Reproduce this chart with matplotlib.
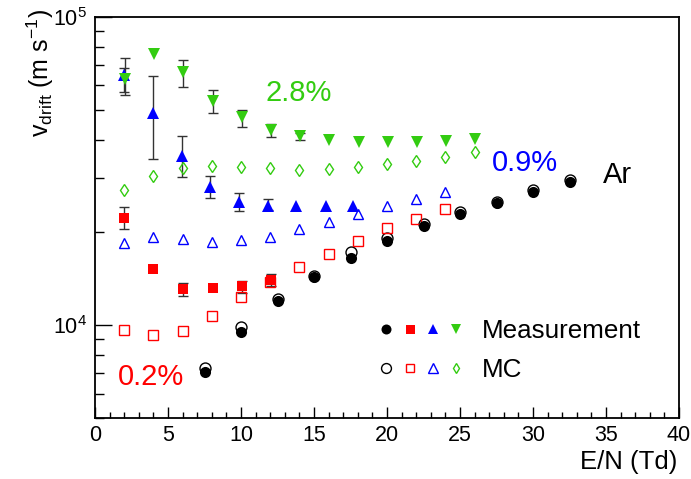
import matplotlib
matplotlib.use('Agg')
import matplotlib.pyplot as plt
import numpy as np
from matplotlib.legend_handler import HandlerTuple
from matplotlib.ticker import LogLocator, NullFormatter, MultipleLocator

plt.rcParams['font.family'] = ['Liberation Sans', 'DejaVu Sans']
plt.rcParams['mathtext.fontset'] = 'custom'
plt.rcParams['mathtext.rm'] = 'Liberation Sans'
plt.rcParams['mathtext.it'] = 'Liberation Sans:italic'
plt.rcParams['mathtext.default'] = 'regular'

RED = '#ff0000'
BLUE = '#0000ff'
GREEN = '#33cc11'

# pure Ar
en_ar = [7.5, 10.0, 12.5, 15.0, 17.5, 20.0, 22.5, 25.0, 27.5, 30.0, 32.5]
v_ar_meas = [7050, 9510, 11980, 14380, 16560, 18740, 20950, 22990, 25000, 27080, 29180]
v_ar_mc = [7260, 9870, 12180, 14450, 17230, 19120, 21320, 23330, 25100, 27560, 29690]

# 0.2 %
en_02_meas = [2.0, 4.0, 6.05, 8.05, 10.05, 12.05]
v_02_meas = [22310, 15180, 13080, 13240, 13400, 13985]
v_02_hi = [24210, 0, 13670, 0, 13900, 14630]
v_02_lo = [20450, 0, 12440, 0, 12760, 13400]
en_02_mc = [2, 4, 6, 8, 10, 12, 14, 16, 18, 20, 22, 24]
v_02_mc = [9656, 9303, 9563, 10717, 12350, 13850, 15410, 17010, 18790, 20610, 22030, 23790]

# 0.9 %
en_09_meas = [2.0, 4.0, 5.95, 7.9, 9.85, 11.85, 13.8, 15.8, 17.7]
v_09_meas = [64880, 48980, 35480, 28030, 25060, 24440, 24440, 24440, 24440]
v_09_hi = [68230, 64150, 41230, 30570, 26880, 25770, 0, 0, 0]
v_09_lo = [57000, 34670, 30270, 25870, 23550, 23600, 0, 0, 0]
en_09_mc = [2, 4, 6, 8, 10, 12, 14, 16, 18, 20, 22, 24]
v_09_mc = [18430, 19310, 19080, 18660, 18840, 19360, 20450, 21650, 22910, 24440, 25700, 27150]

# 2.8 %
en_28_meas = [2.05, 4.05, 6.05, 8.05, 10.05, 12.05, 14.05, 16.05, 18.05, 20.05, 22.05, 24.05, 26.05]
v_28_meas = [62980, 75690, 66240, 53570, 47210, 42850, 40980, 39790, 39200, 39300, 39300, 39700, 40270]
v_28_hi = [73450, 0, 72550, 58040, 50000, 44960, 42000, 0, 0, 0, 0, 0, 0]
v_28_lo = [55930, 0, 59430, 48980, 43970, 40650, 39800, 0, 0, 0, 0, 0, 0]
en_28_mc = [2, 4, 6, 8, 10, 12, 14, 16, 18, 20, 22, 24, 26]
v_28_mc = [27400, 30400, 32290, 32870, 32530, 32290, 31960, 32100, 32640, 33430, 34210, 35160, 36380]


def draw_errors(ax, x, y, hi, lo):
    x = np.asarray(x, float)
    y = np.asarray(y, float)
    hi = np.asarray(hi, float)
    lo = np.asarray(lo, float)
    m = hi > 0
    ax.errorbar(x[m], y[m], yerr=[y[m] - lo[m], hi[m] - y[m]], fmt='none',
                ecolor='#333333', elinewidth=1.0, capsize=3.5, capthick=1.0, zorder=2)


fig = plt.figure(figsize=(6.91, 4.79), dpi=100)
ax = fig.add_axes([95 / 691, 61 / 479, 584 / 691, 401 / 479])

mc_kw = dict(linestyle='none', markerfacecolor='none', markeredgewidth=1.0, zorder=3)
h_ar_mc, = ax.plot(en_ar, v_ar_mc, marker='o', ms=7.9, markeredgecolor='black', **mc_kw)
h_02_mc, = ax.plot(en_02_mc, v_02_mc, marker='s', ms=7.0, markeredgecolor=RED, **mc_kw)
h_09_mc, = ax.plot(en_09_mc, v_09_mc, marker='^', ms=7.6, markeredgecolor=BLUE, **mc_kw)
h_28_mc, = ax.plot(en_28_mc, v_28_mc, marker='d', ms=6.0, markeredgecolor=GREEN, **mc_kw)

draw_errors(ax, en_02_meas, v_02_meas, v_02_hi, v_02_lo)
draw_errors(ax, en_09_meas, v_09_meas, v_09_hi, v_09_lo)
draw_errors(ax, en_28_meas, v_28_meas, v_28_hi, v_28_lo)

meas_kw = dict(linestyle='none', markeredgewidth=0, zorder=4)
h_ar, = ax.plot(en_ar, v_ar_meas, marker='o', ms=8.0, color='black', **meas_kw)
h_02, = ax.plot(en_02_meas, v_02_meas, marker='s', ms=7.2, color=RED, **meas_kw)
h_09, = ax.plot(en_09_meas, v_09_meas, marker='^', ms=8.0, color=BLUE, **meas_kw)
h_28, = ax.plot(en_28_meas, v_28_meas, marker='v', ms=8.0, color=GREEN, **meas_kw)

ax.set_yscale('log')
ax.set_xlim(0, 40)
ax.set_ylim(5000, 1e5)
ax.xaxis.set_major_locator(MultipleLocator(5))
ax.xaxis.set_minor_locator(MultipleLocator(1))
ax.yaxis.set_major_locator(LogLocator(base=10))
ax.yaxis.set_minor_locator(LogLocator(base=10, subs=np.arange(2, 10)))
ax.yaxis.set_minor_formatter(NullFormatter())
ax.tick_params(axis='both', which='both', direction='in', top=False, right=False,
               labelsize=15.5, color='black')
ax.tick_params(axis='x', which='major', length=8, width=1, pad=5)
ax.tick_params(axis='x', which='minor', length=4.3, width=1)
ax.tick_params(axis='y', which='major', length=12, width=1, pad=6)
ax.tick_params(axis='y', which='minor', length=6.5, width=1)
for sp in ax.spines.values():
    sp.set_linewidth(1.3)

fig.text(677 / 691, 1 - 462 / 479, 'E/N (Td)', ha='right', va='center', fontsize=18.5)
fig.text(40 / 691, 1 - 9 / 479, r'v$_{drift}$ (m s$^{-1}$)', rotation=90,
         ha='center', va='top', fontsize=18)

ax.text(0.3485, 0.791, '2.8%', color=GREEN, fontsize=21, ha='center', va='baseline',
        transform=ax.transAxes)
ax.text(0.736, 0.616, '0.9%', color=BLUE, fontsize=21, ha='center', va='baseline',
        transform=ax.transAxes)
ax.text(0.8955, 0.586, 'Ar', color='black', fontsize=21, ha='center', va='baseline',
        transform=ax.transAxes)
ax.text(0.0955, 0.0823, '0.2%', color=RED, fontsize=21, ha='center', va='baseline',
        transform=ax.transAxes)

ax.legend([(h_ar, h_02, h_09, h_28), (h_ar_mc, h_02_mc, h_09_mc, h_28_mc)],
          ['Measurement', 'MC'],
          handler_map={tuple: HandlerTuple(ndivide=None, pad=0.6)},
          loc='center left', bbox_to_anchor=(0.452, 0.168), frameon=False,
          fontsize=18.7, handlelength=3.0, handletextpad=0.84, labelspacing=0.55,
          markerscale=0.9)

fig.savefig('out.png', dpi=100)
